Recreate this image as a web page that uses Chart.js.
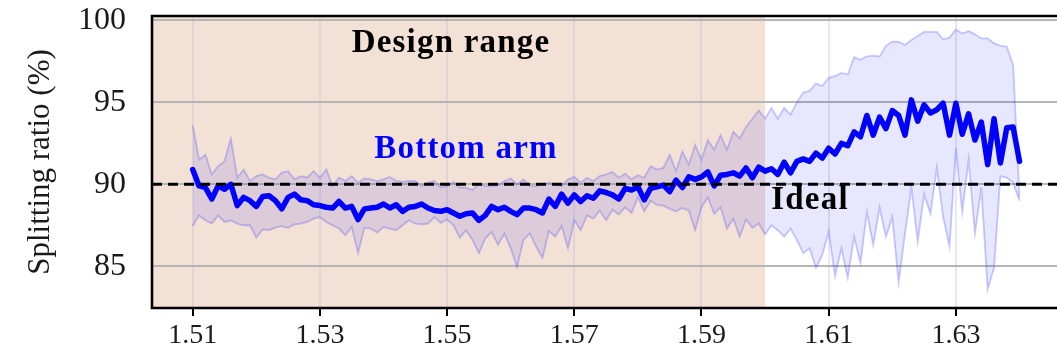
<!DOCTYPE html>
<html><head><meta charset="utf-8">
<script src="https://cdn.jsdelivr.net/npm/chart.js@4.4.1/dist/chart.umd.min.js"></script>
<style>html,body{margin:0;padding:0;background:#fff;}</style>
</head><body>
<canvas id="c" width="1057" height="358"></canvas>
<script>
const wavelength = [
1.510,1.511,1.512,1.513,1.514,1.515,1.516,1.517,1.518,1.519,
1.520,1.521,1.522,1.523,1.524,1.525,1.526,1.527,1.528,1.529,
1.530,1.531,1.532,1.533,1.534,1.535,1.536,1.537,1.538,1.539,
1.540,1.541,1.542,1.543,1.544,1.545,1.546,1.547,1.548,1.549,
1.550,1.551,1.552,1.553,1.554,1.555,1.556,1.557,1.558,1.559,
1.560,1.561,1.562,1.563,1.564,1.565,1.566,1.567,1.568,1.569,
1.570,1.571,1.572,1.573,1.574,1.575,1.576,1.577,1.578,1.579,
1.580,1.581,1.582,1.583,1.584,1.585,1.586,1.587,1.588,1.589,
1.590,1.591,1.592,1.593,1.594,1.595,1.596,1.597,1.598,1.599,
1.600,1.601,1.602,1.603,1.604,1.605,1.606,1.607,1.608,1.609,
1.610,1.611,1.612,1.613,1.614,1.615,1.616,1.617,1.618,1.619,
1.620,1.621,1.622,1.623,1.624,1.625,1.626,1.627,1.628,1.629,
1.630,1.631,1.632,1.633,1.634,1.635,1.636,1.637,1.638,1.639,
1.640];

const bottomArm = [
90.9,89.9,89.8,89.1,89.9,89.7,90.0,88.7,89.2,89.0,
88.65,89.25,89.3,89.0,88.5,89.2,89.4,89.05,89.0,88.75,
88.7,88.6,88.55,88.95,88.55,88.65,87.85,88.5,88.55,88.6,
88.8,88.55,88.75,88.35,88.6,88.65,88.8,88.55,88.4,88.35,
88.45,88.25,88.05,88.2,88.25,87.8,88.1,88.65,88.45,88.6,
88.35,88.15,88.55,88.55,88.45,88.25,89.1,88.65,89.4,88.85,
89.35,88.95,89.3,89.15,89.6,89.5,89.35,89.1,89.75,89.65,
89.85,89.05,89.75,89.85,89.95,89.55,90.25,89.8,90.45,90.3,
90.45,90.75,89.9,90.55,90.6,90.7,90.5,91.0,90.4,91.05,
90.8,90.95,90.6,91.35,90.7,91.4,91.55,91.4,91.9,91.6,
92.2,91.85,92.5,92.35,93.2,92.9,94.2,93.0,94.1,93.4,
94.5,94.2,93.0,95.15,93.85,94.85,94.35,94.55,94.95,93.0,
94.95,93.05,94.3,92.7,93.8,91.2,94.0,91.3,93.45,93.5,
91.4];

const upperBound = [
93.6,91.5,91.8,90.6,91.1,91.4,92.8,90.4,90.9,90.2,
90.5,90.6,90.4,90.3,90.7,90.8,90.3,90.5,90.4,90.8,
90.4,90.9,89.9,90.4,90.2,90.5,90.1,90.35,90.3,90.2,
90.3,90.45,90.2,90.15,90.2,90.2,89.9,90.1,90.2,89.8,
89.9,90.15,89.8,89.8,89.65,90.0,89.9,89.9,89.95,90.2,
90.35,90.0,90.3,89.9,89.9,90.0,90.1,90.0,89.9,90.3,
90.45,90.1,90.4,90.2,90.5,90.6,90.75,90.4,90.65,90.3,
90.55,90.4,91.1,90.9,91.0,91.8,90.8,92.0,91.2,92.4,
91.5,92.7,92.1,93.0,92.1,93.2,92.8,93.5,94.0,94.5,
94.0,94.65,94.0,94.65,94.25,95.0,95.6,95.7,96.15,96.0,
96.5,96.6,96.8,96.7,97.75,97.6,97.8,97.85,97.8,98.45,
98.7,98.7,98.5,98.8,99.05,99.3,99.3,99.3,98.85,98.95,
99.45,99.2,99.35,99.15,98.9,98.9,98.6,98.45,98.4,97.3,
89.2];

const lowerBound = [
87.45,88.1,87.8,87.6,88.1,87.7,87.8,87.6,87.5,87.5,
86.75,87.25,87.2,87.35,87.45,87.35,87.55,87.6,87.7,87.9,
88.0,87.7,87.5,87.3,86.9,87.4,85.8,87.35,87.3,87.05,
87.4,87.3,87.2,87.5,87.8,87.6,87.55,87.6,88.0,87.65,
87.85,87.5,86.75,87.2,86.6,85.8,86.7,87.1,86.3,87.0,
86.1,84.95,86.6,87.0,86.2,85.5,87.15,86.8,87.45,86.1,
87.8,87.2,88.1,87.9,88.4,87.8,88.45,88.15,88.6,88.25,
89.2,88.35,89.0,88.75,88.7,88.5,88.35,88.55,88.4,87.2,
88.6,89.2,88.2,88.6,87.3,87.9,86.8,87.85,87.35,87.6,
86.95,87.5,87.2,86.8,87.3,86.6,85.8,86.1,84.9,85.7,
87.1,84.4,86.1,84.3,86.8,85.2,88.3,86.3,88.6,86.8,
88.0,84.0,87.0,89.8,86.5,89.4,88.2,91.0,88.0,86.2,
92.2,88.3,91.5,87.0,89.8,83.6,84.9,90.5,90.4,90.1,
89.0];

const xTickValues = [1.51,1.53,1.55,1.57,1.59,1.61,1.63];
const xTickLabels = ['1.51','1.53','1.55','1.57','1.59','1.61','1.63'];
const yTickValues = [85,90,95,100];
const yTickLabels = ['85','90','95','100'];
const idealValue = 90;
const designRangeEnd = 1.60;
const yTitle = 'Splitting ratio (%)';
const textDesign = 'Design range';
const textArm = 'Bottom arm';
const textIdeal = 'Ideal';

const toPts = arr => arr.map((v, i) => ({x: wavelength[i], y: v}));
const SERIF = '"Liberation Serif", "Times New Roman", serif';

const decor = {
  id: 'decor',
  beforeDraw(chart) {
    const {ctx, chartArea: a, scales: {x}} = chart;
    ctx.save();
    ctx.fillStyle = '#ffffff';
    ctx.fillRect(0, 0, chart.width, chart.height);
    ctx.fillStyle = '#f3e1d5';
    const xe = x.getPixelForValue(designRangeEnd);
    ctx.fillRect(a.left, a.top, xe - a.left, a.bottom - a.top);
    ctx.restore();
  },
  afterDatasetsDraw(chart) {
    const {ctx, chartArea: a, scales: {x, y}} = chart;
    ctx.save();
    const yi = y.getPixelForValue(idealValue);
    ctx.strokeStyle = '#000';
    ctx.lineWidth = 3;
    ctx.setLineDash([10, 6]);
    ctx.beginPath();
    ctx.moveTo(a.left, yi);
    ctx.lineTo(a.right, yi);
    ctx.stroke();
    ctx.setLineDash([]);
    ctx.lineWidth = 2.6;
    ctx.beginPath();
    ctx.moveTo(a.right + 2, a.top);
    ctx.lineTo(a.left, a.top);
    ctx.lineTo(a.left, a.bottom);
    ctx.lineTo(a.right + 2, a.bottom);
    ctx.stroke();
    ctx.font = 'bold 33px ' + SERIF;
    ctx.letterSpacing = '1.2px';
    ctx.textAlign = 'center';
    ctx.textBaseline = 'alphabetic';
    ctx.fillStyle = '#000';
    ctx.fillText(textDesign, 451, 52);
    ctx.fillStyle = '#0000ff';
    ctx.fillText(textArm, 466, 158);
    ctx.fillStyle = '#000';
    ctx.fillText(textIdeal, 810, 209);
    ctx.restore();
  }
};

new Chart(document.getElementById('c'), {
  type: 'line',
  data: {
    datasets: [
      { label: 'lower', data: toPts(lowerBound), borderColor: 'rgba(70,70,255,0.28)', borderWidth: 1.8,
        pointRadius: 0, fill: false, tension: 0, order: 2 },
      { label: 'upper', data: toPts(upperBound), borderColor: 'rgba(70,70,255,0.28)', borderWidth: 1.8,
        pointRadius: 0, fill: '-1', backgroundColor: 'rgba(0,0,255,0.095)', tension: 0, order: 1 },
      { label: 'Bottom arm', data: toPts(bottomArm), borderColor: '#0000ff', borderWidth: 5.5,
        pointRadius: 0, fill: false, tension: 0, order: 0, borderJoinStyle: 'round', borderCapStyle: 'round' }
    ]
  },
  options: {
    responsive: false, animation: false, devicePixelRatio: 1,
    layout: { padding: { top: 16, right: 0, bottom: 0, left: 0 } },
    plugins: { legend: { display: false }, tooltip: { enabled: false } },
    scales: {
      x: {
        type: 'linear', min: 1.5036, max: 1.6459,
        afterBuildTicks: s => { s.ticks = xTickValues.map(v => ({value: v})); },
        afterFit: s => { s.height = 50; s.paddingLeft = 0; s.paddingRight = 0; },
        border: { display: false },
        grid: { color: 'rgba(190,190,225,0.35)', lineWidth: 2, tickColor: '#000', tickLength: 8, tickWidth: 2 },
        ticks: { autoSkip: false, maxRotation: 0, padding: 3, color: '#1a1a1a',
          font: { family: SERIF, size: 28 }, callback: (v, i) => xTickLabels[i] }
      },
      y: {
        type: 'linear', min: 82.45, max: 100.27,
        afterBuildTicks: s => { s.ticks = yTickValues.map(v => ({value: v})); },
        afterFit: s => { s.width = 152; s.paddingTop = 0; s.paddingBottom = 0; },
        border: { display: false },
        grid: { color: '#b5b5b5', lineWidth: 2, drawTicks: false },
        ticks: { padding: 26, color: '#1a1a1a', font: { family: SERIF, size: 32 },
          callback: (v, i) => yTickLabels[i] },
        title: { display: true, text: yTitle, color: '#1a1a1a', font: { family: SERIF, size: 31 },
          padding: { top: 22, bottom: 0 } }
      }
    }
  },
  plugins: [decor]
});
</script>
</body></html>
